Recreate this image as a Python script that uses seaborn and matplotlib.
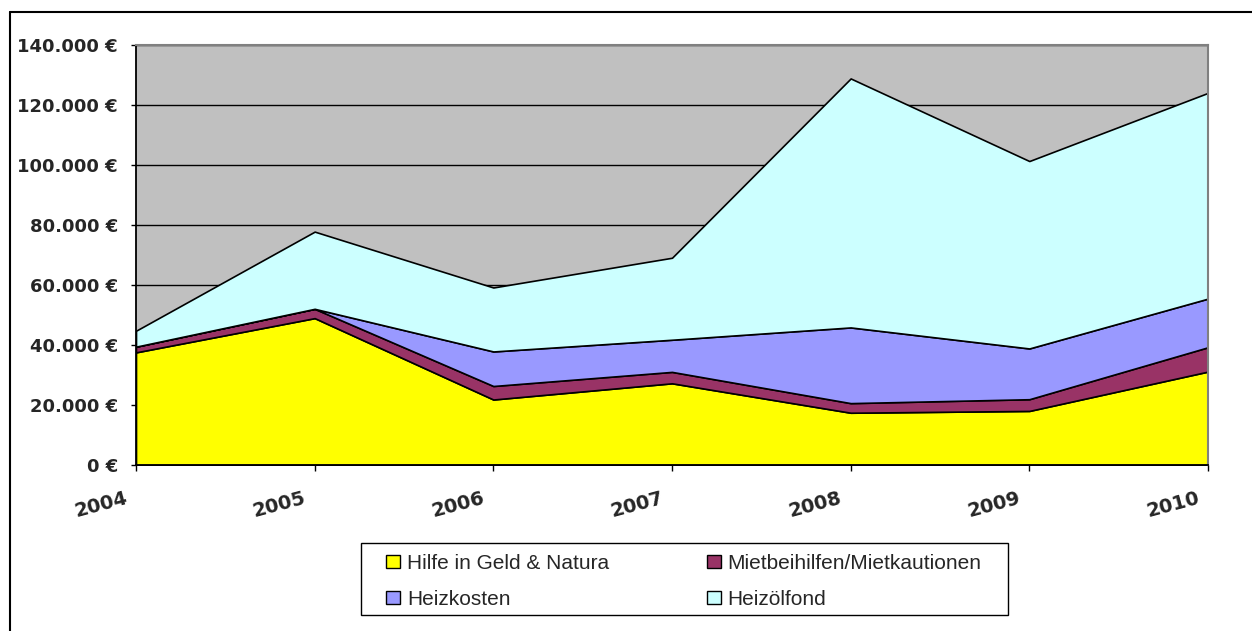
import matplotlib
matplotlib.use("Agg")
import matplotlib.pyplot as plt
import matplotlib.transforms as mtransforms
from matplotlib.patches import Patch, Rectangle
from matplotlib.lines import Line2D
import seaborn as sns

# data (EUR per year)
years = [2004, 2005, 2006, 2007, 2008, 2009, 2010]
hilfe = [37500, 48900, 21800, 27200, 17400, 18000, 31100]
miete = [1900, 3100, 4500, 3800, 3200, 3900, 8100]
heizkosten = [0, 0, 11500, 10700, 25200, 16900, 16200]
heizoelfond = [5300, 25700, 21300, 27300, 82900, 62400, 68500]

labels = ["Hilfe in Geld & Natura", "Mietbeihilfen/Mietkautionen",
          "Heizkosten", "Heizölfond"]
colors = ["#FFFF00", "#993366", "#9999FF", "#CCFFFF"]
yticks = [0, 20000, 40000, 60000, 80000, 100000, 120000, 140000]

sns.set_theme(style="white")
plt.rcParams["font.family"] = ["DejaVu Sans"]

W, H = 1252, 631
fig = plt.figure(figsize=(W / 100, H / 100), dpi=100)
ax = fig.add_axes([136 / W, 1 - 465 / H, (1208 - 136) / W, (465 - 44.5) / H])

ax.set_facecolor("#C0C0C0")
ax.stackplot(years, hilfe, miete, heizkosten, heizoelfond,
             colors=colors, edgecolor="black", linewidth=1.2, zorder=2)

ax.set_xlim(years[0], years[-1])
ax.set_ylim(0, 140000)
ax.set_axisbelow(True)
ax.yaxis.grid(True, color="black", linewidth=1)
ax.xaxis.grid(False)

for side in ["left", "bottom"]:
    ax.spines[side].set_color("black")
    ax.spines[side].set_linewidth(1.3)
for side in ["top", "right"]:
    ax.spines[side].set_color("#808080")
    ax.spines[side].set_linewidth(1.5)

tick_font = {"family": "DejaVu Sans", "weight": "bold", "size": 13}

ax.set_yticks(yticks)
ax.set_yticklabels([f"{v:,.0f} €".replace(",", ".") for v in yticks],
                   fontdict=tick_font)
ax.tick_params(axis="y", left=True, length=3.6, width=1, pad=9.4,
               color="black")

ax.set_xticks(years)
ax.set_xticklabels([str(y) for y in years], rotation=15, ha="right",
                   va="center", rotation_mode="anchor",
                   fontdict={**tick_font, "size": 14})
ax.tick_params(axis="x", bottom=True, length=4.3, width=1, pad=19,
               color="black")
offset = mtransforms.ScaledTranslation(-0.09, 0, fig.dpi_scale_trans)
for lbl in ax.get_xticklabels():
    lbl.set_transform(lbl.get_transform() + offset)

# legend: column-wise order so rows read Hilfe | Miete, Heizkosten | Heizoel
order = [0, 2, 1, 3]
handles = [Patch(facecolor=colors[i], edgecolor="black", linewidth=1,
                 label=labels[i]) for i in order]
fig.legend(handles=handles, loc="upper left",
           bbox_to_anchor=(386 / W, 1 - 554 / H), ncol=2, frameon=False,
           prop={"family": "Liberation Sans", "size": 15},
           handlelength=0.67, handleheight=0.62, handletextpad=0.33,
           columnspacing=4.7, labelspacing=0.8, borderpad=0,
           borderaxespad=0)
fig.add_artist(Rectangle((361 / W, 1 - 615 / H), (1008 - 361) / W,
                         (615 - 542.7) / H, transform=fig.transFigure,
                         fill=False, edgecolor="black", linewidth=1))

# outer chart border (left and top only are visible)
fig.add_artist(Line2D([10 / W, 10 / W], [0, 1 - 12 / H],
                      transform=fig.transFigure, color="black", linewidth=1.5))
fig.add_artist(Line2D([10 / W, 1], [1 - 12 / H, 1 - 12 / H],
                      transform=fig.transFigure, color="black", linewidth=1.5))

fig.savefig("out.png", dpi=100)
